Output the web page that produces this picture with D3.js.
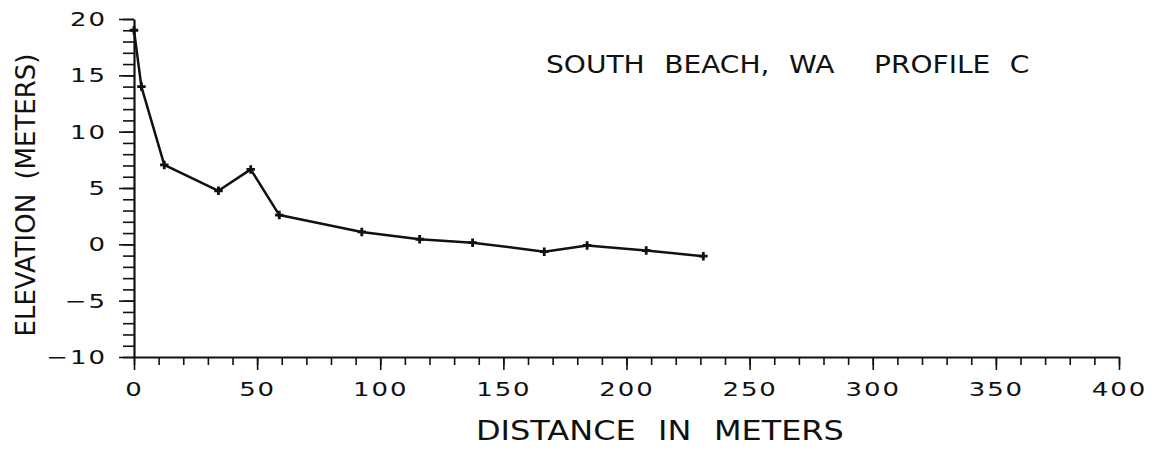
<!DOCTYPE html>
<html>
<head>
<meta charset="utf-8">
<script src="https://cdn.jsdelivr.net/npm/d3@7"></script>
<style>
  html, body { margin: 0; padding: 0; background: #fff; }
  svg { display: block; }
  text { font-family: "DejaVu Sans", sans-serif; fill: #111; }
</style>
</head>
<body>
<svg id="chart" width="1166" height="452"></svg>
<script>
// Beach profile survey: distance from the datum (m) and elevation (m)
const distance  = [0, 3, 12.3, 34.3, 47.4, 59, 92.5, 116, 137.5, 166.6, 184, 208, 231.2];
const elevation = [19, 14, 7.05, 4.75, 6.65, 2.6, 1.1, 0.45, 0.15, -0.65, -0.1, -0.55, -1.05];

const xTicks = [0, 50, 100, 150, 200, 250, 300, 350, 400];
const yTicks = [-10, -5, 0, 5, 10, 15, 20];
const xMinor = d3.range(0, 401, 10);
const yMinor = d3.range(-10, 21, 1);

const titlePlace = "SOUTH BEACH, WA";
const titleProfile = "PROFILE C";
const xLabel = "DISTANCE IN METERS";
const yLabel = "ELEVATION (METERS)";

const svg = d3.select("#chart");
const plot = { left: 134, right: 1119, top: 19, bottom: 357 };
const ink = "#111";

const x = d3.scaleLinear().domain([0, 400]).range([plot.left, plot.right]);
const y = d3.scaleLinear().domain([-10, 20]).range([plot.bottom, plot.top]);

// plotter-style lettering is wide, so labels are stretched horizontally
const stretch = 1.3;

// minor ticks
svg.append("g")
  .attr("transform", `translate(0,${plot.bottom})`)
  .call(d3.axisBottom(x).tickValues(xMinor).tickSize(8).tickFormat(""))
  .call(g => g.select(".domain").remove())
  .selectAll("line").attr("stroke", ink).attr("stroke-width", 1.6);

svg.append("g")
  .attr("transform", `translate(${plot.left},0)`)
  .call(d3.axisLeft(y).tickValues(yMinor).tickSize(11).tickFormat(""))
  .call(g => g.select(".domain").remove())
  .selectAll("line").attr("stroke", ink).attr("stroke-width", 1.6);

// major ticks with labels
const xAxis = svg.append("g")
  .attr("transform", `translate(0,${plot.bottom})`)
  .call(d3.axisBottom(x).tickValues(xTicks).tickSize(13).tickSizeOuter(0).tickPadding(12));
xAxis.select(".domain").attr("stroke", ink).attr("stroke-width", 2.2);
xAxis.selectAll("line").attr("stroke", ink).attr("stroke-width", 1.6);
xAxis.selectAll("text")
  .style("font-size", "20px")
  .style("letter-spacing", "1.5px")
  .attr("transform", `scale(${stretch},1)`)
  .attr("fill", ink);

const yAxis = svg.append("g")
  .attr("transform", `translate(${plot.left},0)`)
  .call(d3.axisLeft(y).tickValues(yTicks).tickSize(15).tickSizeOuter(0).tickPadding(12)
    .tickFormat(d => d < 0 ? "\u2212" + Math.abs(d) : d));
yAxis.select(".domain").attr("stroke", ink).attr("stroke-width", 2.2);
yAxis.selectAll("line").attr("stroke", ink).attr("stroke-width", 1.6);
yAxis.selectAll("text")
  .style("font-size", "20px")
  .style("letter-spacing", "1.5px")
  .attr("x", -27 / stretch)
  .attr("transform", `scale(${stretch},1)`)
  .attr("fill", ink);

// profile line
const pts = distance.map((d, i) => [d, elevation[i]]);
svg.append("path")
  .datum(pts)
  .attr("fill", "none")
  .attr("stroke", ink)
  .attr("stroke-width", 2.5)
  .attr("stroke-linejoin", "round")
  .attr("d", d3.line().x(d => x(d[0])).y(d => y(d[1])));

svg.selectAll(".pt")
  .data(pts)
  .join("path")
  .attr("class", "pt")
  .attr("transform", d => `translate(${x(d[0])},${y(d[1])})`)
  .attr("d", d3.symbol().type(d3.symbolCross).size(40))
  .attr("fill", ink);

// title and axis labels
svg.append("text")
  .attr("transform", "translate(546,73) scale(1.17,1)")
  .style("font-size", "24px")
  .style("word-spacing", "9px")
  .text(titlePlace);

svg.append("text")
  .attr("transform", "translate(874,73) scale(1.17,1)")
  .style("font-size", "24px")
  .style("word-spacing", "9px")
  .text(titleProfile);

svg.append("text")
  .attr("transform", "translate(476,440) scale(1.23,1)")
  .style("font-size", "26px")
  .style("word-spacing", "10px")
  .text(xLabel);

svg.append("text")
  .attr("transform", "translate(35,195) rotate(-90)")
  .attr("text-anchor", "middle")
  .style("font-size", "26px")
  .style("word-spacing", "6px")
  .text(yLabel);
</script>
</body>
</html>
